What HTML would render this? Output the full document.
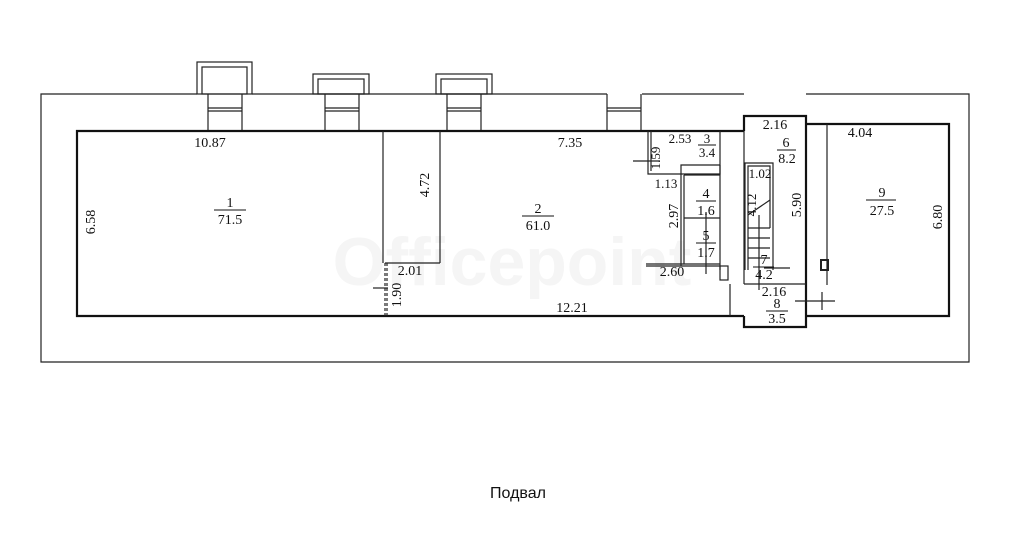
<!DOCTYPE html>
<html><head><meta charset="utf-8"><style>
html,body{margin:0;padding:0;background:#fff;width:1024px;height:538px;overflow:hidden}
svg{display:block}
text{font-family:"Liberation Serif",serif;font-size:14px;fill:#111}
</style></head><body>
<svg width="1024" height="538" viewBox="0 0 1024 538">
<text x="512" y="285" text-anchor="middle" style="font-family:'Liberation Sans',sans-serif;font-size:68px;font-weight:bold;fill:#f5f5f5">Officepoint</text>
<g fill="none" stroke="#222" stroke-width="1.2">
<polyline points="197,94 41,94 41,362 969,362 969,94 806,94"/>
<line x1="642" y1="94" x2="744" y2="94"/>
<line x1="252" y1="94" x2="607" y2="94"/>
<g>
<rect x="197" y="62" width="55" height="32"/><rect x="202" y="67" width="45" height="27"/>
<line x1="208" y1="94" x2="208" y2="131"/><line x1="242" y1="94" x2="242" y2="131"/>
<line x1="208" y1="108" x2="242" y2="108"/><line x1="208" y1="111" x2="242" y2="111"/>
<rect x="313" y="74" width="56" height="20"/><rect x="318" y="79" width="46" height="15"/>
<line x1="325" y1="94" x2="325" y2="131"/><line x1="359" y1="94" x2="359" y2="131"/>
<line x1="325" y1="108" x2="359" y2="108"/><line x1="325" y1="111" x2="359" y2="111"/>
<rect x="436" y="74" width="56" height="20"/><rect x="441" y="79" width="46" height="15"/>
<line x1="447" y1="94" x2="447" y2="131"/><line x1="481" y1="94" x2="481" y2="131"/>
<line x1="447" y1="108" x2="481" y2="108"/><line x1="447" y1="111" x2="481" y2="111"/>
<line x1="607" y1="94" x2="607" y2="131"/><line x1="641" y1="94" x2="641" y2="131"/>
<line x1="607" y1="108" x2="641" y2="108"/><line x1="607" y1="111" x2="641" y2="111"/>
</g>
</g>
<g fill="none" stroke="#111" stroke-width="2.2">
<polyline points="744,131 77,131 77,316 744,316"/>
<polyline points="806,124 949,124 949,316 806,316"/>
<polyline points="744,131 744,116 806,116 806,327 744,327 744,316"/>
</g>
<g fill="none" stroke="#222" stroke-width="1.2">
<line x1="744" y1="131" x2="744" y2="284"/>
<line x1="383" y1="131" x2="383" y2="263"/><line x1="440" y1="131" x2="440" y2="263"/>
<line x1="385" y1="263" x2="440" y2="263"/>
<line x1="385" y1="263" x2="385" y2="316" stroke-dasharray="3,2"/><line x1="387" y1="263" x2="387" y2="316" stroke-dasharray="3,2"/>
<line x1="373" y1="288" x2="388" y2="288"/>
<polyline points="648,131 648,174 720,174 720,131"/>
<polyline points="651,131 651,171"/>
<polyline points="681,266 681,165 720,165"/>
<line x1="684" y1="175" x2="684" y2="264"/>
<line x1="684" y1="175" x2="720" y2="175"/>
<line x1="720" y1="165" x2="720" y2="270"/>
<line x1="684" y1="218" x2="720" y2="218"/>
<line x1="646" y1="264" x2="720" y2="264"/><line x1="646" y1="266" x2="720" y2="266"/>
<line x1="633" y1="161" x2="660" y2="161"/>
<line x1="706" y1="212" x2="706" y2="274"/>
<rect x="720" y="266" width="8" height="14"/>
<line x1="730" y1="284" x2="730" y2="316"/>
<polyline points="745,270 745,163 773,163 773,270"/>
<polyline points="748,270 748,166 770,166 770,228"/>
<line x1="748" y1="215" x2="770" y2="200"/>
<line x1="748" y1="228" x2="770" y2="228"/>
<line x1="748" y1="238" x2="770" y2="238"/>
<line x1="748" y1="248" x2="770" y2="248"/>
<line x1="748" y1="258" x2="770" y2="258"/>
<line x1="759" y1="215" x2="759" y2="290"/>
<line x1="744" y1="284" x2="806" y2="284"/>
<line x1="764" y1="268" x2="790" y2="268"/>
<line x1="827" y1="124" x2="827" y2="285"/>
<line x1="795" y1="301" x2="835" y2="301"/>
<line x1="822" y1="292" x2="822" y2="310"/>
<rect x="821" y="260" width="7" height="10" stroke-width="2"/>
</g>
<text x="210" y="147" text-anchor="middle">10.87</text>
<text x="570" y="147" text-anchor="middle">7.35</text>
<text x="680" y="143" text-anchor="middle" style="font-size:13px">2.53</text>
<text x="707" y="143" text-anchor="middle" style="font-size:13px">3</text>
<line x1="698" y1="145" x2="716" y2="145" stroke="#111"/>
<text x="707" y="157" text-anchor="middle" style="font-size:13px">3.4</text>
<text x="666" y="188" text-anchor="middle" style="font-size:13px">1.13</text>
<text x="775" y="129" text-anchor="middle">2.16</text>
<text x="786" y="147" text-anchor="middle">6</text>
<line x1="777" y1="150" x2="796" y2="150" stroke="#111"/>
<text x="787" y="163" text-anchor="middle">8.2</text>
<text x="760" y="178" text-anchor="middle" style="font-size:13px">1.02</text>
<text x="706" y="198" text-anchor="middle">4</text>
<line x1="696" y1="201" x2="716" y2="201" stroke="#111"/>
<text x="706" y="215" text-anchor="middle">1.6</text>
<text x="706" y="240" text-anchor="middle">5</text>
<line x1="696" y1="243" x2="716" y2="243" stroke="#111"/>
<text x="706" y="257" text-anchor="middle">1.7</text>
<text x="672" y="276" text-anchor="middle">2.60</text>
<text x="764" y="264" text-anchor="middle">7</text>
<line x1="753" y1="267" x2="774" y2="267" stroke="#111"/>
<text x="764" y="279" text-anchor="middle">4.2</text>
<text x="774" y="296" text-anchor="middle">2.16</text>
<text x="777" y="308" text-anchor="middle">8</text>
<line x1="766" y1="311" x2="788" y2="311" stroke="#111"/>
<text x="777" y="323" text-anchor="middle">3.5</text>
<text x="860" y="137" text-anchor="middle">4.04</text>
<text x="882" y="197" text-anchor="middle">9</text>
<line x1="866" y1="200" x2="896" y2="200" stroke="#111"/>
<text x="882" y="215" text-anchor="middle">27.5</text>
<text x="230" y="207" text-anchor="middle">1</text>
<line x1="214" y1="210" x2="246" y2="210" stroke="#111"/>
<text x="230" y="224" text-anchor="middle">71.5</text>
<text x="538" y="213" text-anchor="middle">2</text>
<line x1="522" y1="216" x2="554" y2="216" stroke="#111"/>
<text x="538" y="230" text-anchor="middle">61.0</text>
<text x="410" y="275" text-anchor="middle">2.01</text>
<text x="572" y="312" text-anchor="middle">12.21</text>
<g>
<text transform="translate(95,222) rotate(-90)" text-anchor="middle">6.58</text>
<text transform="translate(429,185) rotate(-90)" text-anchor="middle">4.72</text>
<text transform="translate(401,295) rotate(-90)" text-anchor="middle">1.90</text>
<text transform="translate(660,158) rotate(-90)" text-anchor="middle" style="font-size:13px">1.59</text>
<text transform="translate(678,216) rotate(-90)" text-anchor="middle">2.97</text>
<text transform="translate(756,205) rotate(-90)" text-anchor="middle" style="font-size:13px">4.12</text>
<text transform="translate(801,205) rotate(-90)" text-anchor="middle">5.90</text>
<text transform="translate(942,217) rotate(-90)" text-anchor="middle">6.80</text>
</g>
<text x="518" y="498" text-anchor="middle" style="font-family:'Liberation Sans',sans-serif;font-size:16px">Подвал</text>
</svg>
</body></html>
